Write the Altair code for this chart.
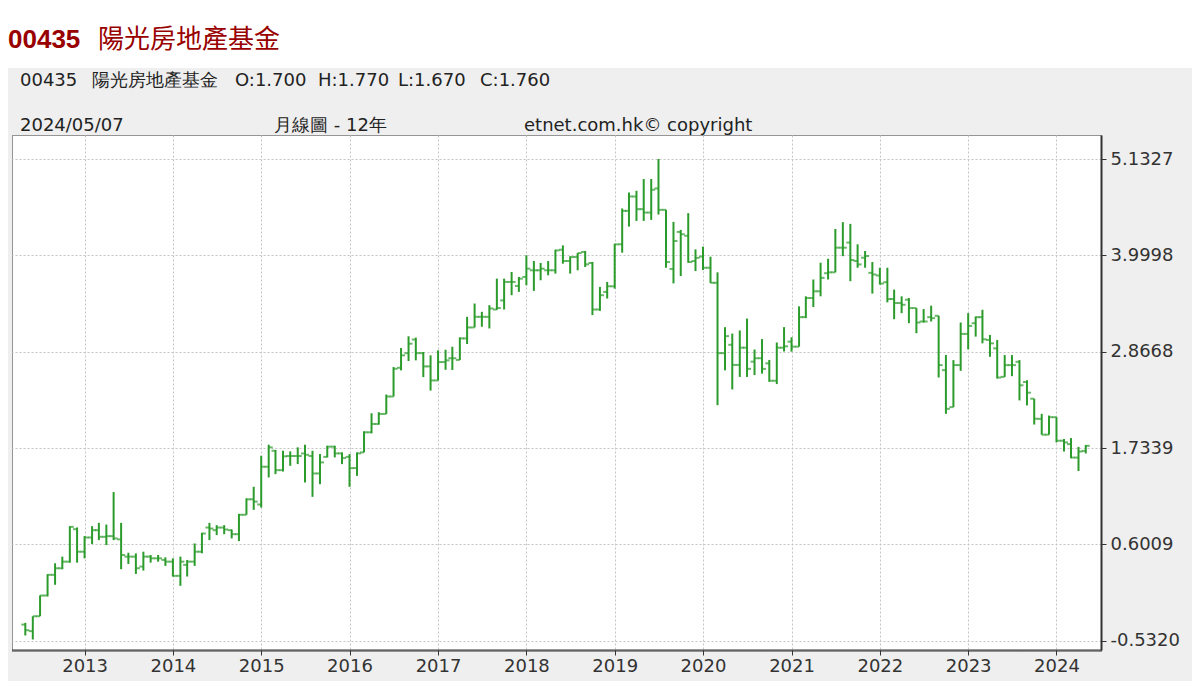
import altair as alt
import pandas as pd

# Monthly OHLC, May 2012 - May 2024
open_ = [
    -0.342, -0.419, -0.244, 0.0, 0.243, 0.320, 0.398, 0.78,
    0.515, 0.682, 0.768, 0.690, 0.698, 0.660, 0.457, 0.457, 0.340, 0.457, 0.437, 0.418,
    0.398, 0.231, 0.360, 0.398, 0.515, 0.799, 0.768, 0.799, 0.768, 0.721, 0.949, 1.131,
    1.07, 1.514, 1.702, 1.474, 1.64, 1.64, 1.67, 1.64, 1.435, 1.63, 1.75, 1.671,
    1.63, 1.498, 1.683, 1.919, 2.017, 2.135, 2.34, 2.678, 2.85, 3.01, 2.85, 2.694,
    2.529, 2.745, 2.79, 2.77, 3.023, 3.152, 3.277, 3.277, 3.363, 3.47, 3.687, 3.64,
    3.746, 3.824, 3.824, 3.824, 3.824, 4.066, 3.933, 3.98, 4.04, 3.91, 3.363, 3.57,
    3.636, 4.13, 4.523, 4.692, 4.543, 4.503, 4.787, 4.535, 3.84, 4.275, 4.23, 3.933,
    3.985, 3.854, 3.677, 2.85, 2.948, 2.711, 2.914, 2.75, 2.79, 2.73, 2.525, 2.914,
    2.985, 2.926, 3.273, 3.498, 3.577, 3.79, 3.80, 4.09, 4.15, 3.933, 3.972, 3.794,
    3.763, 3.684, 3.486, 3.439, 3.478, 3.38, 3.222, 3.273, 3.289, 2.65, 2.215, 2.709,
    3.076, 3.202, 3.273, 3.005, 2.906, 2.571, 2.709, 2.748, 2.511, 2.314, 2.077, 1.891,
    2.097, 1.82, 1.78, 1.622, 1.70,
]
high = [
    -0.322, -0.244, 0.001, 0.250, 0.379, 0.457, 0.815, 0.80,
    0.698, 0.815, 0.854, 0.834, 1.216, 0.854, 0.503, 0.495, 0.515, 0.476, 0.476, 0.449,
    0.437, 0.457, 0.418, 0.612, 0.737, 0.854, 0.827, 0.827, 0.776, 0.960, 1.142, 1.278,
    1.643, 1.773, 1.711, 1.702, 1.695, 1.742, 1.773, 1.702, 1.663, 1.761, 1.761, 1.683,
    1.663, 1.683, 1.931, 2.143, 2.155, 2.363, 2.686, 2.91, 3.048, 3.032, 2.863, 2.824,
    2.883, 2.89, 2.925, 3.035, 3.277, 3.433, 3.336, 3.414, 3.726, 3.726, 3.804, 3.746,
    4.0, 3.933, 3.91, 3.933, 4.066, 4.117, 3.988, 4.027, 4.05, 3.922, 3.629, 3.687,
    4.136, 4.551, 4.739, 4.759, 4.897, 4.897, 5.133, 4.535, 4.393, 4.299, 4.496, 4.07,
    4.102, 3.984, 3.80, 3.155, 3.08, 3.117, 3.256, 2.892, 3.015, 2.77, 2.975, 3.156,
    3.036, 3.40, 3.518, 3.716, 3.913, 3.96, 4.31, 4.39, 4.37, 4.13, 4.051, 3.921,
    3.854, 3.854, 3.597, 3.518, 3.498, 3.38, 3.368, 3.408, 3.289, 2.827, 2.768, 3.21,
    3.32, 3.281, 3.36, 3.064, 3.005, 2.827, 2.827, 2.768, 2.531, 2.314, 2.136, 2.116,
    2.097, 1.84, 1.851, 1.748, 1.77,
]
low = [
    -0.470, -0.517, -0.244, -0.011, 0.126, 0.309, 0.386, 0.386,
    0.437, 0.605, 0.651, 0.593, 0.651, 0.309, 0.371, 0.254, 0.293, 0.386, 0.398, 0.348,
    0.223, 0.114, 0.223, 0.348, 0.496, 0.651, 0.710, 0.721, 0.671, 0.640, 0.949, 1.007,
    1.034, 1.388, 1.427, 1.458, 1.525, 1.545, 1.329, 1.160, 1.309, 1.624, 1.624, 1.545,
    1.278, 1.407, 1.683, 1.907, 2.009, 2.135, 2.34, 2.647, 2.757, 2.765, 2.568, 2.41,
    2.529, 2.654, 2.652, 2.769, 2.957, 3.152, 3.16, 3.14, 3.36, 3.363, 3.531, 3.57,
    3.648, 3.582, 3.707, 3.765, 3.785, 3.902, 3.785, 3.824, 3.863, 3.297, 3.347, 3.492,
    3.609, 4.031, 4.338, 4.405, 4.405, 4.417, 4.48, 3.854, 3.67, 3.756, 3.913, 3.815,
    3.827, 3.676, 2.238, 2.648, 2.423, 2.57, 2.57, 2.592, 2.609, 2.513, 2.486, 2.869,
    2.867, 2.926, 3.262, 3.392, 3.518, 3.716, 3.80, 3.99, 3.696, 3.854, 3.854, 3.55,
    3.656, 3.447, 3.249, 3.32, 3.202, 3.084, 3.21, 3.222, 2.563, 2.136, 2.215, 2.642,
    2.894, 3.044, 2.965, 2.807, 2.551, 2.571, 2.579, 2.294, 2.235, 2.01, 1.891, 1.891,
    1.80, 1.693, 1.614, 1.464, 1.67,
]
close = [
    -0.408, -0.244, -0.001, 0.243, 0.320, 0.398, 0.807, 0.515,
    0.682, 0.768, 0.690, 0.698, 0.671, 0.476, 0.457, 0.320, 0.457, 0.437, 0.437, 0.398,
    0.231, 0.398, 0.398, 0.515, 0.729, 0.787, 0.799, 0.776, 0.721, 0.949, 1.131, 1.104,
    1.514, 1.742, 1.474, 1.636, 1.64, 1.64, 1.655, 1.435, 1.565, 1.75, 1.671, 1.616,
    1.498, 1.671, 1.919, 2.017, 2.135, 2.34, 2.666, 2.824, 2.961, 2.85, 2.694, 2.529,
    2.745, 2.765, 2.79, 3.023, 3.152, 3.277, 3.277, 3.375, 3.38, 3.687, 3.687, 3.726,
    3.843, 3.824, 3.843, 3.824, 4.058, 3.933, 3.98, 4.027, 3.894, 3.363, 3.531, 3.636,
    4.129, 4.523, 4.692, 4.543, 4.503, 4.771, 4.535, 3.921, 4.169, 4.248, 3.921, 3.97,
    3.854, 3.677, 2.85, 3.05, 2.711, 2.914, 2.665, 2.79, 2.665, 2.525, 2.914, 2.93,
    2.926, 3.273, 3.498, 3.577, 3.735, 3.80, 4.09, 4.09, 3.945, 3.893, 3.992, 3.775,
    3.668, 3.486, 3.439, 3.419, 3.38, 3.21, 3.222, 3.261, 2.709, 2.195, 2.709, 3.076,
    3.17, 3.273, 3.013, 2.965, 2.563, 2.709, 2.709, 2.472, 2.385, 2.077, 1.891, 2.097,
    1.82, 1.80, 1.622, 1.693, 1.76,
]

months = [f"{y}-{m:02d}-01T00:00:00" for y in range(2012, 2025) for m in range(1, 13)]
months = [d for d in months if "2012-05-01" <= d[:10] <= "2024-05-01"]
assert len(months) == len(open_) == len(high) == len(low) == len(close)

y_ticks = [-0.5320, 0.6009, 1.7339, 2.8668, 3.9998, 5.1327]
year_ticks = list(range(2013, 2025))

title_code = "00435"
title_name = "陽光房地產基金"
header_items = ["00435", "陽光房地產基金", "O:1.700", "H:1.770", "L:1.670", "C:1.760"]
header_x = [8, 80, 223, 306, 386, 468]
info_items = ["2024/05/07", "月線圖 - 12年", "etnet.com.hk© copyright"]
info_x = [8, 262, 512]

df = pd.DataFrame({"date": months, "open": open_, "high": high, "low": low, "close": close})

W, H = 1089, 515
GREEN = "#2b9b2b"
FONT = "DejaVu Sans"

xscale = alt.Scale(domain=[alt.DateTime(year=2012, month=3, date=7),
                           alt.DateTime(year=2024, month=7, date=3)])
yscale = alt.Scale(domain=[-0.641, 5.415], nice=False, zero=False)

xaxis = alt.Axis(
    values=[alt.DateTime(year=y, month=1, date=1) for y in year_ticks],
    format="%Y", title=None, grid=True, gridColor="#c4c4c4", gridDash=[2, 2],
    domainColor="#333333", domainWidth=3, domainDash=[1, 1],
    tickColor="#333333", tickSize=5, tickWidth=1, labelPadding=2,
    labelFont=FONT, labelFontSize=18, labelColor="#333333",
)
yaxis = alt.Axis(
    values=y_ticks, orient="right", title=None, grid=True, gridColor="#c4c4c4", gridDash=[2, 2],
    domainColor="#333333", domainWidth=2, tickColor="#333333", tickSize=5, labelPadding=4,
    labelFont=FONT, labelFontSize=18, labelColor="#333333",
    labelExpr="replace(format(datum.value, '.4f'), '\u2212', '-')",
)

base = alt.Chart(df)
hl = base.mark_rule(color=GREEN, strokeWidth=2).encode(
    x=alt.X("date:T", scale=xscale, axis=xaxis),
    y=alt.Y("low:Q", scale=yscale, axis=yaxis),
    y2="high:Q",
)
op = base.mark_tick(color=GREEN, orient="horizontal", size=4, thickness=2, xOffset=-2).encode(
    x="date:T", y="open:Q")
cl = base.mark_tick(color=GREEN, orient="horizontal", size=4, thickness=2, xOffset=2).encode(
    x="date:T", y="close:Q")

one = pd.DataFrame({"a": [0]})
white_top = alt.Chart(one).mark_rect(color="white").encode(
    x=alt.value(-4), x2=alt.value(1180), y=alt.value(-127), y2=alt.value(-67))

title1 = alt.Chart(pd.DataFrame({"t": [title_code]})).mark_text(
    align="left", baseline="middle", font="Liberation Sans", fontSize=26, fontWeight="bold",
    color="#990000").encode(text="t:N", x=alt.value(-4), y=alt.value(-95))
title2 = alt.Chart(pd.DataFrame({"t": [title_name]})).mark_text(
    align="left", baseline="middle", font="Noto Sans CJK TC", fontSize=26,
    color="#990000").encode(text="t:N", x=alt.value(86), y=alt.value(-95))

hdr = alt.Chart(pd.DataFrame({"t": header_items, "x": header_x})).mark_text(
    align="left", baseline="middle", font=FONT, fontSize=18, color="#222222").encode(
    text="t:N", x=alt.X("x:Q", scale=None), y=alt.value(-54))
inf = alt.Chart(pd.DataFrame({"t": info_items, "x": info_x})).mark_text(
    align="left", baseline="middle", font=FONT, fontSize=18, color="#222222").encode(
    text="t:N", x=alt.X("x:Q", scale=None), y=alt.value(-9))

chart = alt.layer(white_top, hl, op, cl, title1, title2, hdr, inf).properties(
    width=W, height=H,
    autosize=alt.AutoSizeParams(type="none"),
    padding={"left": 4, "top": 127, "right": 91, "bottom": 31},
    background="#efefef",
).configure_view(
    fill="white", stroke="#333333", strokeDash=[1, 1], strokeWidth=1,
)

chart.save("out.html", embed_options={"renderer": "svg", "actions": False})
